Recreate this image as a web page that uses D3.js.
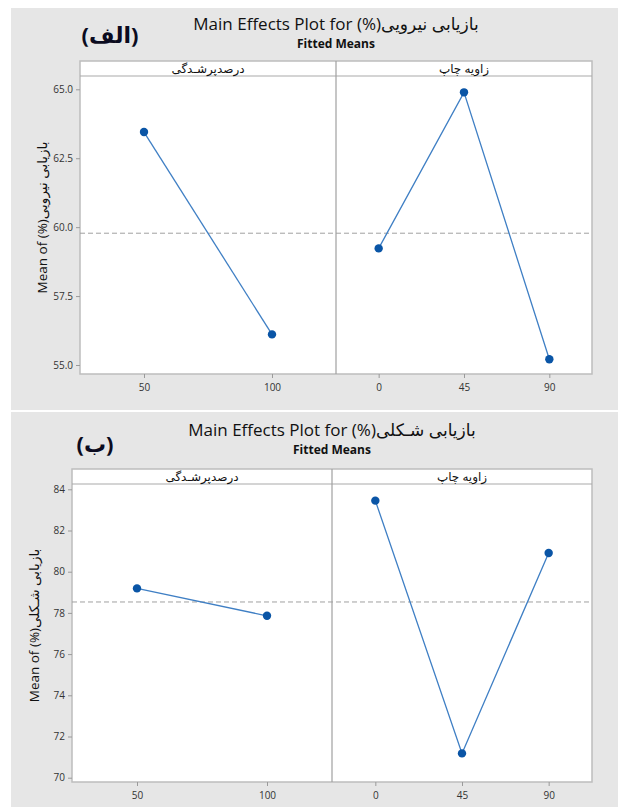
<!DOCTYPE html>
<html>
<head>
<meta charset="utf-8">
<script src="https://cdn.jsdelivr.net/npm/d3@7"></script>
<style>
  body { margin: 0; background: #fff; }
  svg text { font-family: "Open Sans", "DejaVu Sans", sans-serif; }
</style>
</head>
<body>
<div class="chart"></div>
<script>
// data
var fillCats = ["50", "100"];
var angleCats = ["0", "45", "90"];

var strengthFill = [63.45, 56.11];
var strengthAngle = [59.23, 64.89, 55.21];
var strengthMean = 59.78;
var strengthTicks = [55, 57.5, 60, 62.5, 65];

var shapeFill = [79.19, 77.86];
var shapeAngle = [83.45, 71.18, 80.91];
var shapeMean = 78.53;
var shapeTicks = [70, 72, 74, 76, 78, 80, 82, 84];

var fillLabel = "درصدپرشـدگی";
var angleLabel = "زاویه چاپ";

var svgWidth = 618;
var svgHeight = 809;

var svg = d3.select(".chart")
  .append("svg")
  .attr("width", svgWidth)
  .attr("height", svgHeight);

var charts = [
  {
    tag: "(الف)", tagX: 110, tagY: 43,
    title: "Main Effects Plot for (%)بازیابی نیرویی",
    yTitle: "Mean of (%)بازیابی نیرویی",
    bgTop: 8, bgBottom: 410,
    titleY: 30, subY: 48,
    left: 80, right: 592, headTop: 61, headBottom: 76, bottom: 374,
    yDomain: [55, 65], yRange: [365, 89.3],
    ticks: strengthTicks, fmt: d3.format(".1f"),
    fill: strengthFill, angle: strengthAngle, mean: strengthMean
  },
  {
    tag: "(ب)", tagX: 95, tagY: 452,
    title: "Main Effects Plot for (%)بازیابی شـکلی",
    yTitle: "Mean of (%)بازیابی شـکلی",
    bgTop: 412, bgBottom: 807,
    titleY: 436, subY: 454,
    left: 72, right: 592, headTop: 469, headBottom: 484, bottom: 782,
    yDomain: [70, 84], yRange: [777.7, 489.3],
    ticks: shapeTicks, fmt: d3.format("d"),
    fill: shapeFill, angle: shapeAngle, mean: shapeMean
  }
];

charts.forEach(function(c) {
  var g = svg.append("g");

  // gray backdrop
  g.append("rect")
    .attr("x", 11)
    .attr("y", c.bgTop)
    .attr("width", svgWidth - 11)
    .attr("height", c.bgBottom - c.bgTop)
    .attr("fill", "#e6e6e6");

  var mid = (c.left + c.right) / 2;
  var split = mid;

  g.append("text")
    .attr("x", mid)
    .attr("y", c.titleY)
    .attr("text-anchor", "middle")
    .attr("font-size", "17px")
    .attr("fill", "#111")
    .text(c.title);

  g.append("text")
    .attr("x", mid)
    .attr("y", c.subY)
    .attr("text-anchor", "middle")
    .attr("font-size", "12px")
    .attr("font-weight", "bold")
    .attr("fill", "#111")
    .text("Fitted Means");

  g.append("text")
    .attr("x", c.tagX)
    .attr("y", c.tagY)
    .attr("text-anchor", "middle")
    .attr("font-size", "22px")
    .attr("font-weight", "bold")
    .attr("fill", "#0b0b20")
    .text(c.tag);

  // plot area and header strip
  g.append("rect")
    .attr("x", c.left)
    .attr("y", c.headTop)
    .attr("width", c.right - c.left)
    .attr("height", c.bottom - c.headTop)
    .attr("fill", "white")
    .attr("stroke", "#bdbdbd")
    .attr("stroke-width", 1.5);

  g.append("line")
    .attr("x1", c.left).attr("x2", c.right)
    .attr("y1", c.headBottom).attr("y2", c.headBottom)
    .attr("stroke", "#a9a9a9")
    .attr("stroke-width", 1);

  g.append("line")
    .attr("x1", split).attr("x2", split)
    .attr("y1", c.headTop).attr("y2", c.bottom)
    .attr("stroke", "#a0a0a0")
    .attr("stroke-width", 1.2);

  g.append("text")
    .attr("x", (c.left + split) / 2)
    .attr("y", c.headBottom - 3)
    .attr("text-anchor", "middle")
    .attr("font-size", "12px")
    .attr("fill", "#111")
    .text(fillLabel);

  g.append("text")
    .attr("x", (split + c.right) / 2)
    .attr("y", c.headBottom - 3)
    .attr("text-anchor", "middle")
    .attr("font-size", "12px")
    .attr("fill", "#111")
    .text(angleLabel);

  // scales
  var y = d3.scaleLinear().domain(c.yDomain).range(c.yRange);
  var xFill = d3.scalePoint().domain(fillCats).range([c.left, split]).padding(0.5);
  var xAngle = d3.scalePoint().domain(angleCats).range([split, c.right]).padding(0.5);

  // axes
  var yAxis = g.append("g")
    .attr("transform", `translate(${c.left}, 0)`)
    .call(d3.axisLeft(y).tickValues(c.ticks).tickFormat(c.fmt).tickSize(4).tickPadding(3));

  var xAxis1 = g.append("g")
    .attr("transform", `translate(0, ${c.bottom})`)
    .call(d3.axisBottom(xFill).tickSize(4).tickPadding(6));

  var xAxis2 = g.append("g")
    .attr("transform", `translate(0, ${c.bottom})`)
    .call(d3.axisBottom(xAngle).tickSize(4).tickPadding(6));

  [yAxis, xAxis1, xAxis2].forEach(function(a) {
    a.select(".domain").remove();
    a.selectAll(".tick line").attr("stroke", "#9a9a9a");
    a.selectAll(".tick text")
      .attr("fill", "#333")
      .attr("font-size", "10px")
      .attr("font-family", "'Open Sans', sans-serif");
  });

  // y title
  g.append("text")
    .attr("transform", `translate(${c.left - 38}, ${(c.headTop + c.bottom) / 2}) rotate(-90)`)
    .attr("text-anchor", "middle")
    .attr("dy", "0.35em")
    .attr("font-size", "13.5px")
    .attr("fill", "#111")
    .text(c.yTitle);

  // reference line at the grand mean
  g.append("line")
    .attr("x1", c.left).attr("x2", c.right)
    .attr("y1", y(c.mean)).attr("y2", y(c.mean))
    .attr("stroke", "#a0a0a0")
    .attr("stroke-width", 1)
    .attr("stroke-dasharray", "5,3");

  // lines and points
  var panels = [
    { x: xFill, cats: fillCats, vals: c.fill },
    { x: xAngle, cats: angleCats, vals: c.angle }
  ];

  panels.forEach(function(p) {
    var pts = p.cats.map(function(k, i) { return { k: k, v: p.vals[i] }; });

    g.append("path")
      .datum(pts)
      .attr("fill", "none")
      .attr("stroke", "#3f7fc4")
      .attr("stroke-width", 1.3)
      .attr("d", d3.line().x(d => p.x(d.k)).y(d => y(d.v)));

    g.selectAll(null)
      .data(pts)
      .enter()
      .append("circle")
      .attr("cx", d => p.x(d.k))
      .attr("cy", d => y(d.v))
      .attr("r", 4.2)
      .attr("fill", "#0a55a6");
  });
});
</script>
</body>
</html>
